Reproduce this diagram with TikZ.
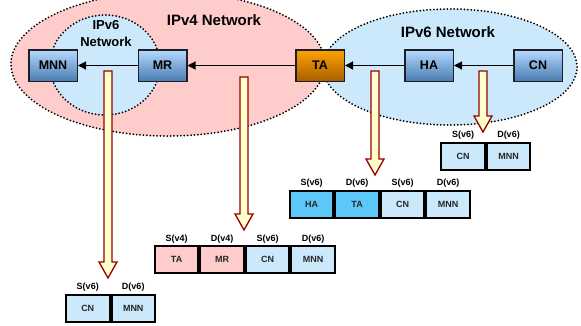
\documentclass[tikz,border=0pt]{standalone}
\usepackage{fontspec}
\setmainfont{Liberation Sans}
\usetikzlibrary{arrows.meta,calc}
\definecolor{pinkfill}{HTML}{FFCCCC}
\definecolor{bluefill}{HTML}{CCE9FC}
\definecolor{celldark}{HTML}{5CC8F8}
\definecolor{arrfill}{HTML}{FFFFCC}
\definecolor{arrline}{HTML}{990000}
\definecolor{boxtop}{HTML}{B4DAFF}
\definecolor{boxbot}{HTML}{4A7BB0}
\definecolor{tatop}{HTML}{FFA200}
\definecolor{tabot}{HTML}{A65F00}
\definecolor{boxline}{HTML}{1E1E28}
\newcommand\blkarr[2]{\draw[blk] let \p1=(#1), \p2=(#2) in
  (\x1-4pt,\y1) -- (\x1+4pt,\y1) -- (\x1+4pt,\y2+16pt) -- (\x1+9pt,\y2+16pt)
  -- (\x1,\y2) -- (\x1-9pt,\y2+16pt) -- (\x1-4pt,\y2+16pt) -- cycle;}
\begin{document}
\begin{tikzpicture}[x=1pt,y=-1pt,
  net/.style={draw=black, line width=2pt, dash pattern=on 0pt off 3.4pt, line cap=round},
  netlabel/.style={font=\bfseries\fontsize{15}{17}\selectfont, inner sep=0pt},
  router/.style={draw=boxline, line width=1.5pt, minimum width=48.5pt, minimum height=31.5pt,
    inner sep=0pt, font=\bfseries\fontsize{12.5}{14}\selectfont, top color=boxtop, bottom color=boxbot},
  link/.style={line width=1.2pt, -{Triangle[length=8pt,width=8pt]}},
  cell/.style={draw, line width=2pt, minimum width=43.5pt, minimum height=27pt, inner sep=0pt,
    font=\bfseries\fontsize{9}{10}\selectfont, text=black!85, fill=bluefill},
  hdr/.style={font=\bfseries\fontsize{9}{10}\selectfont, inner sep=0pt},
  blk/.style={draw=arrline, fill=arrfill, line width=1.3pt, line join=miter}]
\useasboundingbox (0,0) rectangle (581,325);
\clip (0,0) rectangle (581,325);
% network regions
\path[net, fill=pinkfill] (168,64) ellipse [x radius=157pt, y radius=72pt];
\path[net, fill=bluefill] (450,67) ellipse [x radius=127pt, y radius=58pt];
\path[net, fill=bluefill] (105,65) ellipse [x radius=55pt, y radius=50pt];
\node[netlabel] (ipv4) at (214,20) {IPv4 Network};
\node[netlabel] (ipv6r) at (448,32) {IPv6 Network};
\node[netlabel, font=\bfseries\fontsize{13}{17}\selectfont, align=center] (ipv6l) at (106,33.5) {IPv6\\Network};
% routers
\node[router] (MNN) at (53,65.5) {MNN};
\node[router] (MR) at (162.5,65.5) {MR};
\node[router, top color=tatop, bottom color=tabot] (TA) at (320,65.5) {TA};
\node[router] (HA) at (429,65.5) {HA};
\node[router] (CN) at (538,65.5) {CN};
\draw[link] (CN) -- (HA);
\draw[link] (HA) -- (TA);
\draw[link] (TA) -- (MR);
\draw[link] (MR) -- (MNN);
% packet A
\node[cell] (a1) at (463,156) {CN};
\node[cell, anchor=west] (a2) at (a1.east) {MNN};
\node[hdr] at ([yshift=6pt]a1.north) {S(v6)};
\node[hdr] at ([yshift=6pt]a2.north) {D(v6)};
% packet B
\node[cell, fill=celldark] (b1) at (311.6,204) {HA};
\node[cell, fill=celldark, anchor=west] (b2) at (b1.east) {TA};
\node[cell, anchor=west] (b3) at (b2.east) {CN};
\node[cell, anchor=west] (b4) at (b3.east) {MNN};
\node[hdr] at ([yshift=6pt]b1.north) {S(v6)};
\node[hdr] at ([yshift=6pt]b2.north) {D(v6)};
\node[hdr] at ([yshift=6pt]b3.north) {S(v6)};
\node[hdr] at ([yshift=6pt]b4.north) {D(v6)};
% packet C
\node[cell, fill=pinkfill] (c1) at (176.6,259.5) {TA};
\node[cell, fill=pinkfill, anchor=west] (c2) at (c1.east) {MR};
\node[cell, anchor=west] (c3) at (c2.east) {CN};
\node[cell, anchor=west] (c4) at (c3.east) {MNN};
\node[hdr] at ([yshift=6pt]c1.north) {S(v4)};
\node[hdr] at ([yshift=6pt]c2.north) {D(v4)};
\node[hdr] at ([yshift=6pt]c3.north) {S(v6)};
\node[hdr] at ([yshift=6pt]c4.north) {D(v6)};
% packet D
\node[cell] (d1) at (87.75,308) {CN};
\node[cell, anchor=west] (d2) at (d1.east) {MNN};
\node[hdr] at ([yshift=6pt]d1.north) {S(v6)};
\node[hdr] at ([yshift=6pt]d2.north) {D(v6)};
% block arrows
\coordinate (s1) at (108,71);  \coordinate (t1) at (108,278);
\coordinate (s2) at (244,77);  \coordinate (t2) at (244,230);
\coordinate (s3) at (375,71);  \coordinate (t3) at (375,175);
\coordinate (s4) at (483,71);  \coordinate (t4) at (483,132);
\blkarr{s1}{t1}
\blkarr{s2}{t2}
\blkarr{s3}{t3}
\blkarr{s4}{t4}
\end{tikzpicture}
\end{document}
